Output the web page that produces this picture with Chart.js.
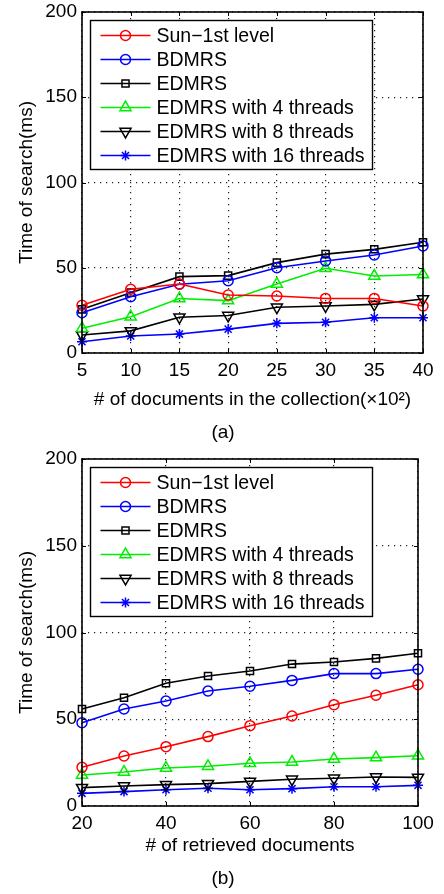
<!DOCTYPE html>
<html><head><meta charset="utf-8">
<script src="https://cdn.jsdelivr.net/npm/chart.js@4.4.0/dist/chart.umd.min.js"></script>
<style>
body{margin:0;background:#fff;width:444px;height:894px;overflow:hidden;position:relative;font-family:"Liberation Sans",Arial,sans-serif;}
canvas{position:absolute;left:0;}
#ca{top:0}
#cb{top:444px}
.cap{position:absolute;width:60px;text-align:center;font-size:19px;line-height:22px;color:#000;}
</style></head><body>
<canvas id="ca" width="444" height="444"></canvas>
<canvas id="cb" width="444" height="450"></canvas>
<div class="cap" style="left:193px;top:421px">(a)</div>
<div class="cap" style="left:193px;top:867px">(b)</div>
<script>
// ---- data ----
const seriesNames = ['Sun\u22121st level','BDMRS','EDMRS','EDMRS with 4 threads','EDMRS with 8 threads','EDMRS with 16 threads'];
const yTicks = [0,50,100,150,200];

// (a) documents in the collection (x10^2)
const docsA = [5,10,15,20,25,30,35,40];
const sunA   = [28.0,37.4,40.5,34.0,33.4,32.0,32.0,27.6];
const bdmrsA = [23.6,33.0,40.3,42.4,50.0,54.0,57.5,62.8];
const edmrsA = [25.6,35.4,44.8,45.4,53.0,58.0,60.8,65.0];
const t4A    = [14.5,21.3,32.0,30.7,40.5,49.7,45.2,46.0];
const t8A    = [10.6,13.0,21.0,22.0,26.8,27.6,28.5,31.7];
const t16A   = [6.6,10.0,11.1,14.0,17.4,18.0,20.7,20.7];

// (b) retrieved documents
const docsB = [20,30,40,50,60,70,80,90,100];
const sunB   = [22.3,28.8,34.2,40.0,46.3,51.9,58.4,63.8,69.9];
const bdmrsB = [48.0,55.9,60.5,66.3,69.0,72.4,76.3,76.3,78.8];
const edmrsB = [55.9,62.4,70.7,74.9,77.8,81.8,83.0,85.1,88.0];
const t4B    = [17.9,19.6,21.9,22.9,24.6,25.4,27.1,27.9,29.0];
const t8B    = [10.6,11.5,12.3,12.9,14.2,15.4,16.0,16.7,16.5];
const t16B   = [7.3,8.3,9.4,10.2,9.4,10.0,11.1,11.1,11.9];

// ---- styles ----
const styles = [
  {color:'#ff0000', pointStyle:'circle',   radius:5,   rotation:0},
  {color:'#0000ff', pointStyle:'circle',   radius:5,   rotation:0},
  {color:'#000000', pointStyle:'rect',     radius:5,   rotation:0},
  {color:'#00ee00', pointStyle:'triangle', radius:6.4, rotation:0},
  {color:'#000000', pointStyle:'triangle', radius:6.4, rotation:180},
  {color:'#0000ff', pointStyle:'star',     radius:5,   rotation:0}
];
const FONT = '"Liberation Sans", Arial, sans-serif';

function makeDatasets(xs, series){
  return series.map((vals,i)=>({
    label: seriesNames[i],
    data: xs.map((x,j)=>({x:x, y:vals[j]})),
    borderColor: styles[i].color,
    backgroundColor: 'rgba(0,0,0,0)',
    pointBorderColor: styles[i].color,
    pointBackgroundColor: 'rgba(0,0,0,0)',
    pointStyle: styles[i].pointStyle,
    pointRadius: styles[i].radius,
    pointRotation: styles[i].rotation,
    pointBorderWidth: 1.5,
    borderWidth: 1.6,
    tension: 0,
    clip: false
  }));
}

const framePlugin = {
  id: 'frame',
  afterDatasetsDraw(chart){
    const {ctx, chartArea:a, scales} = chart;
    ctx.save();
    ctx.strokeStyle = '#000';
    ctx.lineWidth = 1;
    ctx.setLineDash([]);
    const tl = 4;
    ctx.beginPath();
    scales.x.ticks.forEach(t=>{
      const px = Math.round(scales.x.getPixelForValue(t.value))+0.5;
      ctx.moveTo(px, a.bottom); ctx.lineTo(px, a.bottom - tl);
      ctx.moveTo(px, a.top); ctx.lineTo(px, a.top + tl);
    });
    scales.y.ticks.forEach(t=>{
      const py = Math.round(scales.y.getPixelForValue(t.value))+0.5;
      ctx.moveTo(a.left, py); ctx.lineTo(a.left + tl, py);
      ctx.moveTo(a.right, py); ctx.lineTo(a.right - tl, py);
    });
    ctx.stroke();
    ctx.lineWidth = 1.6;
    ctx.strokeRect(Math.round(a.left), Math.round(a.top), Math.round(a.right-a.left), Math.round(a.bottom-a.top));
    ctx.restore();
  },
  afterDraw(chart){
    const {ctx, chartArea:a} = chart;
    const bx = Math.round(a.left)+8.5, by = Math.round(a.top)+8.5, bw = 282, bh = 149;
    ctx.save();
    ctx.fillStyle = '#fff';
    ctx.fillRect(bx, by, bw, bh);
    ctx.strokeStyle = '#000';
    ctx.lineWidth = 1.4;
    ctx.strokeRect(bx, by, bw, bh);
    chart.data.datasets.forEach((ds,i)=>{
      const cy = by + 15 + 24*i;
      ctx.strokeStyle = ds.borderColor;
      ctx.lineWidth = 1.6;
      ctx.beginPath();
      ctx.moveTo(bx+10, cy); ctx.lineTo(bx+60, cy);
      ctx.stroke();
      ctx.fillStyle = 'rgba(0,0,0,0)';
      ctx.lineWidth = 1.5;
      Chart.helpers.drawPoint(ctx, {pointStyle: ds.pointStyle, rotation: ds.pointRotation, radius: ds.pointRadius, borderWidth: 1.5}, bx+35, cy);
      ctx.fillStyle = '#000';
      ctx.font = '19.5px ' + FONT;
      ctx.textBaseline = 'middle';
      ctx.textAlign = 'left';
      ctx.fillText(ds.label, bx+66, cy+1);
    });
    ctx.restore();
  }
};

function makeChart(id, xs, series, xMin, xMax, xStep, xTitle, pad, xScaleH, xTitlePadB){
  return new Chart(document.getElementById(id), {
    type: 'line',
    data: {datasets: makeDatasets(xs, series)},
    options: {
      responsive: false,
      animation: false,
      devicePixelRatio: 1,
      layout: {padding: pad},
      plugins: {legend: {display:false}, tooltip: {enabled:false}},
      scales: {
        x: {
          type: 'linear', min: xMin, max: xMax,
          afterBuildTicks(scale){ const t=[]; for(let v=xMin; v<=xMax; v+=xStep) t.push({value:v}); scale.ticks = t; },
          afterFit(scale){ scale.height = xScaleH; scale.paddingLeft = 0; scale.paddingRight = 0; },
          ticks: {color:'#000', font:{family:FONT, size:19}, padding:6, maxRotation:0, autoSkip:false},
          grid: {color:'#222', lineWidth:1.2, drawTicks:false},
          border: {display:false, dash:[1.2,4.8]},
          title: {display:true, text:xTitle, color:'#000', font:{family:FONT, size:19}, padding:{top:0,bottom:xTitlePadB}}
        },
        y: {
          min: 0, max: 200,
          afterBuildTicks(scale){ scale.ticks = yTicks.map(v=>({value:v})); },
          afterFit(scale){ scale.width = 82; scale.paddingTop = 0; scale.paddingBottom = 0; },
          ticks: {color:'#000', font:{family:FONT, size:19}, padding:5},
          grid: {color:'#222', lineWidth:1.2, drawTicks:false},
          border: {display:false, dash:[1.2,4.8]},
          title: {display:true, text:'Time of search(ms)', color:'#000', font:{family:FONT, size:19}, padding:{top:15,bottom:0}}
        }
      }
    },
    plugins: [framePlugin]
  });
}

makeChart('ca', docsA, [sunA,bdmrsA,edmrsA,t4A,t8A,t16A], 5, 40, 5,
  '# of documents in the collection(\u00d710\u00b2)', {top:12,right:21,bottom:0,left:0}, 91, 33);
makeChart('cb', docsB, [sunB,bdmrsB,edmrsB,t4B,t8B,t16B], 20, 100, 20,
  '# of retrieved documents', {top:15,right:26,bottom:0,left:0}, 88, 37);
</script>
</body></html>
